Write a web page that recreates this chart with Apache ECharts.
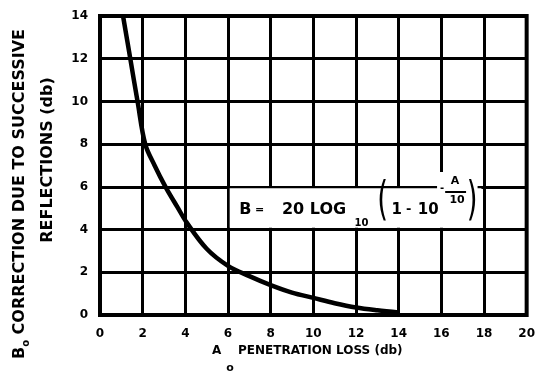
<!DOCTYPE html>
<html><head><meta charset="utf-8">
<script src="https://cdn.jsdelivr.net/npm/echarts@6/dist/echarts.min.js"></script>
<style>html,body{margin:0;padding:0;background:#fff}#c{width:538px;height:374px}</style>
</head><body><div id="c"></div>
<script>
// A0 penetration loss (db) vs B0 correction (db)
const penetrationLoss = [1.08, 1.42, 1.76, 2.12, 2.56, 3.07, 3.63, 4.05, 5.0, 6.0, 7.0, 8.0, 9.0, 10.0, 11.0, 12.0, 13.0, 14.0];
const correction      = [14, 12, 10, 8, 7.0, 6, 5.05, 4.35, 3.1, 2.3, 1.82, 1.4, 1.05, 0.8, 0.55, 0.35, 0.22, 0.12];
const xTicks = [0, 2, 4, 6, 8, 10, 12, 14, 16, 18, 20];
const yTicks = [0, 2, 4, 6, 8, 10, 12, 14];

const FONT = 'DejaVu Sans';
const chart = echarts.init(document.getElementById('c'), null, {renderer: 'canvas'});
const pairs = penetrationLoss.map((a, i) => [a, correction[i]]);

const axisCommon = {
  type: 'value',
  axisLine: {show: false},
  axisTick: {show: false},
  splitLine: {show: true, lineStyle: {color: '#000', width: 3}},
};
chart.setOption({
  animation: false,
  backgroundColor: '#fff',
  grid: {left: 100, right: 9, top: 16, bottom: 59, show: true, borderColor: '#000', borderWidth: 4},
  xAxis: Object.assign({}, axisCommon, {
    min: xTicks[0], max: xTicks[xTicks.length - 1], interval: xTicks[1] - xTicks[0],
    axisLabel: {color: '#000', fontFamily: FONT, fontWeight: 'bold', fontSize: 12, margin: 13}
  }),
  yAxis: Object.assign({}, axisCommon, {
    min: yTicks[0], max: yTicks[yTicks.length - 1], interval: yTicks[1] - yTicks[0],
    axisLabel: {color: '#000', fontFamily: FONT, fontWeight: 'bold', fontSize: 12, margin: 12}
  }),
  series: [{
    type: 'line',
    data: pairs,
    smooth: 0.35,
    symbol: 'none',
    lineStyle: {color: '#000', width: 4.5},
    markArea: {
      silent: true,
      itemStyle: {color: '#fff'},
      data: [
        [{coord: [6.08, 4.08]}, {coord: [17.88, 5.93]}],
        [{coord: [15.8, 5.85]}, {coord: [17.7, 6.7]}]
      ]
    }
  }]
});

const P = (a, b) => chart.convertToPixel({gridIndex: 0}, [a, b]);
const f = (size, w) => (w || 'bold') + ' ' + size + 'px "' + FONT + '"';
function txt(a, b, text, size, align, extra, weight) {
  const p = P(a, b);
  return Object.assign({type: 'text', x: p[0], y: p[1], z: 100,
    style: {text: text, font: f(size, weight), fill: '#000', align: align || 'left', verticalAlign: 'middle'}}, extra || {});
}
const graphics = [
  txt(6.53, 4.92, 'B', 16),
  txt(7.27, 4.92, '=', 11),
  txt(8.53, 4.92, '20 LOG', 16),
  txt(11.93, 4.3, '10', 10),
  txt(13.25, 5.3, '(', 46, 'center', {scaleX: 0.6}, 'normal'),
  txt(13.66, 4.92, '1', 15),
  txt(14.35, 4.92, '-', 13),
  txt(14.9, 4.92, '10', 15),
  txt(16.04, 5.95, '-', 10, 'center'),
  txt(16.64, 6.27, 'A', 11, 'center'),
  txt(16.74, 5.38, '10', 11, 'center'),
  txt(17.44, 5.3, ')', 46, 'center', {scaleX: 0.6}, 'normal'),
];
const b1 = P(16.18, 5.76), b2 = P(17.16, 5.76);
graphics.push({type: 'line', z: 100, shape: {x1: b1[0], y1: b1[1], x2: b2[0], y2: b2[1]}, style: {stroke: '#000', lineWidth: 2}});

// axis titles
graphics.push({type: 'text', x: 20, y: 194, rotation: Math.PI / 2, z: 100,
  style: {text: '{b|B}{s|o}{t| CORRECTION DUE TO SUCCESSIVE}', align: 'center', verticalAlign: 'middle', fill: '#000',
    rich: {b: {font: f(16), fill: '#000'}, s: {font: f(10), fill: '#000', padding: [12, 0, 0, 0]}, t: {font: f(16), fill: '#000'}}}});
graphics.push({type: 'text', x: 48, y: 160, rotation: Math.PI / 2, z: 100,
  style: {text: 'REFLECTIONS (db)', font: f(16), fill: '#000', align: 'center', verticalAlign: 'middle'}});
graphics.push({type: 'text', x: 212, y: 351, z: 100, style: {text: 'A', font: f(12), fill: '#000', align: 'left', verticalAlign: 'middle'}});
graphics.push({type: 'text', x: 230, y: 368, z: 100, style: {text: 'o', font: f(11), fill: '#000', align: 'center', verticalAlign: 'middle'}});
graphics.push({type: 'text', x: 238, y: 351, z: 100, style: {text: 'PENETRATION LOSS (db)', font: f(12), fill: '#000', align: 'left', verticalAlign: 'middle'}});

chart.setOption({graphic: {elements: graphics}});
</script></body></html>
